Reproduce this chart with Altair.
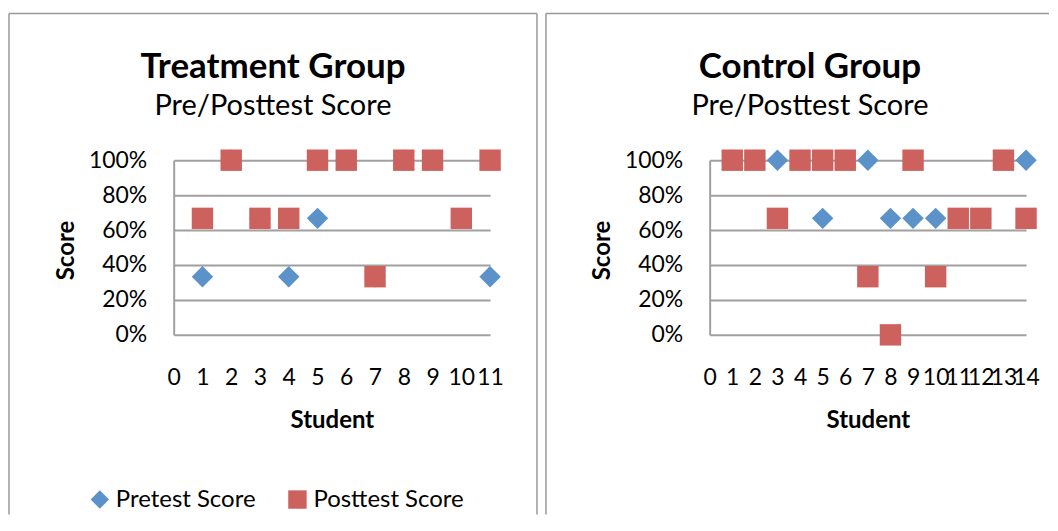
import altair as alt
import pandas as pd

# ---- data ----
treat_students = list(range(1, 12))
treat_pre = [0.333, 1.0, 0.667, 0.333, 0.667, 1.0, 0.333, 1.0, 1.0, 0.667, 0.333]
treat_post = [0.667, 1.0, 0.667, 0.667, 1.0, 1.0, 0.333, 1.0, 1.0, 0.667, 1.0]

control_students = list(range(1, 15))
control_pre = [1.0, 1.0, 1.0, 1.0, 0.667, 1.0, 1.0, 0.667, 0.667, 0.667, 0.667, 0.667, 1.0, 1.0]
control_post = [1.0, 1.0, 0.667, 1.0, 1.0, 1.0, 0.333, 0.0, 1.0, 0.333, 0.667, 0.667, 1.0, 0.667]

series = ["Pretest Score", "Posttest Score"]
colors = ["#5B92C9", "#CC615D"]
shapes = ["diamond", "square"]
y_ticks = [0, 0.2, 0.4, 0.6, 0.8, 1.0]

GRID = "#A0A0A0"
BORDER = "#999999"
PLOT_W, PLOT_H = 317, 175


def long_df(students, pre, post):
    rows = [{"Student": s, "Score": v, "Series": series[0]} for s, v in zip(students, pre)]
    rows += [{"Student": s, "Score": v, "Series": series[1]} for s, v in zip(students, post)]
    return pd.DataFrame(rows)


def panel(title, students, pre, post, box_left, box_right, draw_right, title_dx):
    df = long_df(students, pre, post)
    n = max(students)
    legend = alt.Legend(orient="none", legendX=-86, legendY=328, direction="horizontal",
                        title=None, symbolSize=340, labelFontSize=24, labelColor="black",
                        columnPadding=29, padding=0, symbolOpacity=1, symbolStrokeWidth=0,
                        labelOffset=4)
    pts = alt.Chart(df).mark_point(filled=True, opacity=1, size=460, strokeWidth=0).encode(
        x=alt.X("Student:Q",
                scale=alt.Scale(domain=[0, n], nice=False, zero=True),
                axis=alt.Axis(values=list(range(0, n + 1)), format="d", grid=False,
                              domain=False, ticks=False, tickSize=0, labelPadding=32,
                              labelOverlap=False, labelFlush=False, labelFontSize=23,
                              labelColor="black", title="Student", titleFontSize=24,
                              titleFontWeight="bold", titleY=74, titleBaseline="top",
                              titleColor="black")),
        y=alt.Y("Score:Q",
                scale=alt.Scale(domain=[0, 1], nice=False),
                axis=alt.Axis(values=y_ticks, format=".0%", grid=True, gridColor=GRID,
                              gridWidth=2, domain=True, domainColor=GRID, domainWidth=2,
                              ticks=False, tickSize=0, labelPadding=27, labelFontSize=23,
                              labelColor="black", title="Score", titleFontSize=24,
                              titleFontWeight="bold", titleX=-95, titleY=90,
                              titleColor="black")),
        color=alt.Color("Series:N", scale=alt.Scale(domain=series, range=colors), legend=legend),
        shape=alt.Shape("Series:N", scale=alt.Scale(domain=series, range=shapes), legend=legend),
    )
    one = pd.DataFrame({"k": [0]})
    top = alt.Chart(one).mark_rule(color=BORDER, strokeWidth=1.5).encode(
        x=alt.value(box_left), x2=alt.value(box_right), y=alt.value(-147))
    left = alt.Chart(one).mark_rule(color=BORDER, strokeWidth=1.5).encode(
        x=alt.value(box_left), y=alt.value(-147), y2=alt.value(355))
    layers = [top, left]
    if draw_right:
        right = alt.Chart(one).mark_rule(color=BORDER, strokeWidth=1.5).encode(
            x=alt.value(box_right), y=alt.value(-147), y2=alt.value(355))
        layers.append(right)
    layers.append(pts)
    return alt.layer(*layers).properties(
        width=PLOT_W, height=PLOT_H,
        title=alt.TitleParams(text=title, subtitle="Pre/Posttest Score", fontSize=35,
                              fontWeight="bold", subtitleFontSize=29, subtitlePadding=7,
                              offset=-108, anchor="middle", dx=title_dx, color="black",
                              subtitleColor="black"))


left_panel = panel("Treatment Group", treat_students, treat_pre, treat_post, -165, 364, True, -59)
right_panel = panel("Control Group", control_students, control_pre, control_post, -164, 340, False, -58)

chart = alt.hconcat(left_panel, right_panel, spacing=7).properties(
    padding={"left": 0, "top": 4, "right": 0, "bottom": 0}
).configure(font="Lato").configure_view(strokeWidth=0)

chart.save("out.html", embed_options={"renderer": "svg", "actions": False})
